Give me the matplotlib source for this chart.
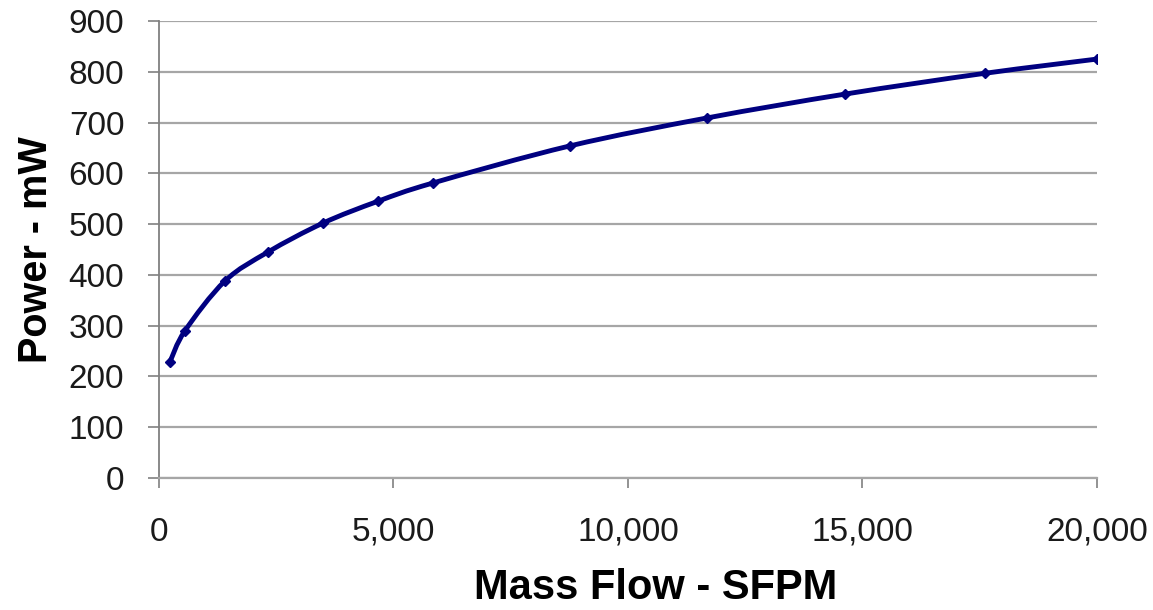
import numpy as np
import matplotlib
matplotlib.use("Agg")
import matplotlib.pyplot as plt
from matplotlib.path import Path
from matplotlib.patches import PathPatch
from matplotlib.ticker import FuncFormatter

plt.rcParams['font.family'] = ['Liberation Sans', 'DejaVu Sans']

# values
mass_flow = [235, 554, 1407, 2324, 3497, 4670, 5842, 8763, 11684, 14627, 17612, 20000]
power_mw = [229, 290, 388, 445, 502, 545, 581, 654, 709, 756, 797, 825]

x_ticks = [0, 5000, 10000, 15000, 20000]
y_ticks = list(range(0, 901, 100))

LINE = "#000080"
GRID = "#a6a6a6"


def smooth_path(xs, ys, t=1 / 6):
    """Bezier path through the points (Catmull-Rom style, like Excel's smoothed line)."""
    x = np.asarray(xs, float)
    y = np.asarray(ys, float)
    n = len(x)
    verts = [(x[0], y[0])]
    codes = [Path.MOVETO]
    for i in range(n - 1):
        p0 = i - 1 if i > 0 else i
        p3 = i + 2 if i + 2 < n else i + 1
        c1 = (x[i] + (x[i + 1] - x[p0]) * t, y[i] + (y[i + 1] - y[p0]) * t)
        c2 = (x[i + 1] - (x[p3] - x[i]) * t, y[i + 1] - (y[p3] - y[i]) * t)
        verts += [c1, c2, (x[i + 1], y[i + 1])]
        codes += [Path.CURVE4] * 3
    return Path(verts, codes)


fig = plt.figure(figsize=(11.53, 6.10), dpi=100)
ax = fig.add_axes([0.1379, 0.2164, 0.8135, 0.7492])

ax.add_patch(PathPatch(smooth_path(mass_flow, power_mw), fill=False,
                       edgecolor=LINE, lw=3.5, capstyle="round", zorder=3))
ax.plot(mass_flow, power_mw, ls="none", marker="D", ms=5.5, color=LINE, zorder=4)

ax.set_xlim(0, 20000)
ax.set_ylim(0, 900)
ax.set_xticks(x_ticks)
ax.set_yticks(y_ticks)
ax.xaxis.set_major_formatter(FuncFormatter(lambda v, p: f"{int(v):,}"))
ax.yaxis.grid(True, color=GRID, lw=1.6)
ax.set_axisbelow(True)

for s in ("top", "right"):
    ax.spines[s].set_visible(False)
ax.spines["left"].set_color("#808080")
ax.spines["left"].set_linewidth(1.3)
ax.spines["bottom"].set_color(GRID)
ax.spines["bottom"].set_linewidth(1.6)

ax.tick_params(axis="y", length=8, width=1.2, color="#808080", pad=17,
               labelsize=24, labelcolor="#1a1a1a")
ax.tick_params(axis="x", length=7, width=1.2, color="#808080", pad=21,
               labelsize=24, labelcolor="#1a1a1a")

ax.set_xlabel("Mass Flow - SFPM", fontsize=30, fontweight="bold", va="center")
ax.xaxis.set_label_coords(0.529, -0.240)
ax.set_ylabel("Power - mW", fontsize=28.5, fontweight="bold", labelpad=10)

fig.savefig("out.png", dpi=100)
